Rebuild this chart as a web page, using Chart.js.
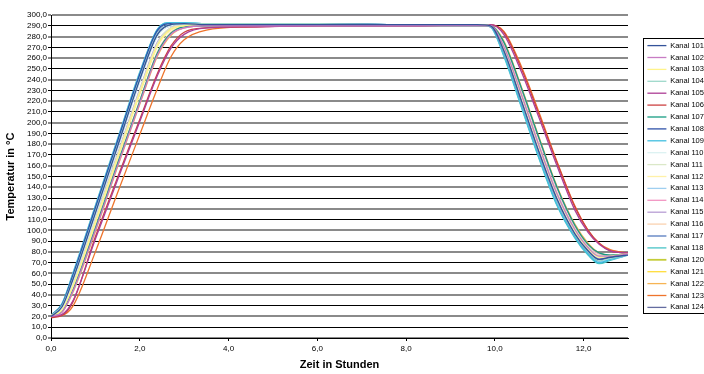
<!DOCTYPE html>
<html>
<head>
<meta charset="utf-8">
<script src="https://cdn.jsdelivr.net/npm/chart.js@4.4.1/dist/chart.umd.min.js"></script>
<style>
  html, body { margin: 0; padding: 0; background: #fff; overflow: hidden; }
  #wrap { width: 704px; height: 374px; }
</style>
</head>
<body>
<div id="wrap"><canvas id="chart" width="704" height="374"></canvas></div>
<script>
// Zeit in Stunden (Messzeitpunkte)
const zeit = [0, 0.25, 0.5, 1.0, 1.5, 2.0, 2.4, 2.7, 3.0, 3.5, 4.5, 6.0, 8.0,
              9.6, 9.9, 10.2, 10.6, 11.0, 11.4, 11.8, 12.1, 12.35, 12.6, 13.0];

// Temperaturen je Kanal (°C)
const kanal101 = [20, 29, 55, 116, 178, 240, 282, 291, 292, 291, 291, 291, 291, 291, 290, 267, 220, 172, 129, 97, 81, 73, 75, 77];
const kanal102 = [20, 24, 44, 100, 160, 218, 263, 282, 288, 290, 290, 290, 290, 290, 290, 271, 226, 178, 134, 101, 84, 76, 76, 78];
const kanal103 = [21, 26, 49, 108, 168, 228, 272, 287, 290, 291, 291, 291, 291, 291, 290, 270, 225, 177, 133, 100, 83, 75, 76, 78];
const kanal104 = [21, 30, 56, 117, 179, 241, 283, 291, 292, 292, 292, 292, 291, 291, 290, 266, 219, 171, 128, 96, 80, 72, 74, 77];
const kanal105 = [20, 22, 35, 92, 147, 201, 244, 269, 282, 288, 289, 290, 290, 291, 291, 282, 247, 204, 160, 119, 98, 87, 81, 79];
const kanal106 = [19, 21, 34, 94, 149, 203, 246, 271, 284, 288, 289, 290, 290, 291, 291, 284, 250, 207, 163, 122, 100, 88, 81, 79];
const kanal107 = [20, 25, 45, 102, 162, 220, 265, 283, 289, 290, 290, 290, 290, 290, 290, 275, 232, 185, 140, 105, 87, 79, 77, 78];
const kanal108 = [21, 31, 59, 121, 183, 245, 286, 292, 292, 292, 292, 292, 291, 291, 290, 266, 219, 171, 128, 96, 80, 72, 75, 77];
const kanal109 = [21, 32, 60, 122, 184, 246, 287, 293, 293, 292, 292, 292, 291, 291, 289, 263, 215, 167, 124, 94, 78, 70, 73, 77];
const kanal110 = [20, 28, 53, 114, 176, 238, 280, 290, 291, 291, 291, 291, 291, 291, 290, 270, 224, 176, 132, 99, 82, 75, 76, 78];
const kanal111 = [20, 27, 50, 110, 170, 230, 274, 288, 290, 290, 290, 291, 291, 290, 290, 272, 227, 179, 135, 102, 85, 77, 77, 78];
const kanal112 = [20, 26, 48, 107, 167, 227, 271, 286, 289, 290, 290, 290, 290, 290, 290, 271, 226, 178, 134, 101, 84, 76, 76, 78];
const kanal113 = [21, 31, 60, 122, 184, 246, 286, 292, 292, 292, 292, 291, 291, 291, 289, 264, 216, 168, 125, 95, 79, 71, 73, 77];
const kanal114 = [20, 24, 44, 101, 161, 219, 264, 282, 288, 290, 290, 290, 290, 290, 290, 274, 231, 184, 139, 104, 86, 78, 77, 78];
const kanal115 = [20, 27, 51, 111, 171, 231, 275, 288, 291, 291, 291, 291, 291, 291, 290, 268, 221, 173, 130, 98, 81, 74, 75, 77];
const kanal116 = [20, 25, 46, 103, 163, 221, 266, 284, 289, 290, 290, 290, 290, 290, 290, 272, 227, 179, 135, 101, 84, 76, 76, 78];
const kanal117 = [21, 30, 58, 120, 182, 244, 285, 292, 292, 292, 292, 292, 291, 291, 290, 267, 220, 172, 129, 97, 81, 73, 75, 77];
const kanal118 = [21, 32, 61, 123, 185, 247, 287, 293, 293, 292, 292, 292, 291, 291, 289, 262, 214, 166, 123, 93, 77, 69, 72, 77];
const kanal120 = [20, 26, 49, 108, 168, 228, 272, 287, 290, 290, 290, 290, 290, 290, 290, 270, 225, 177, 133, 100, 83, 75, 76, 78];
const kanal121 = [20, 26, 50, 109, 169, 229, 273, 287, 290, 290, 291, 291, 290, 290, 290, 269, 224, 176, 132, 99, 82, 74, 76, 78];
const kanal122 = [20, 24, 43, 99, 159, 217, 262, 281, 288, 290, 290, 290, 290, 290, 290, 276, 233, 186, 141, 106, 88, 79, 77, 78];
const kanal123 = [20, 21, 30, 80, 135, 189, 232, 261, 277, 286, 289, 290, 290, 290, 290, 285, 252, 209, 164, 123, 100, 88, 82, 79];
const kanal124 = [20, 29, 54, 115, 177, 239, 281, 290, 291, 291, 291, 291, 291, 291, 290, 268, 221, 173, 130, 97, 81, 74, 75, 77];

const kanalNamen = ['Kanal 101', 'Kanal 102', 'Kanal 103', 'Kanal 104', 'Kanal 105', 'Kanal 106',
  'Kanal 107', 'Kanal 108', 'Kanal 109', 'Kanal 110', 'Kanal 111', 'Kanal 112', 'Kanal 113',
  'Kanal 114', 'Kanal 115', 'Kanal 116', 'Kanal 117', 'Kanal 118', 'Kanal 120', 'Kanal 121',
  'Kanal 122', 'Kanal 123', 'Kanal 124'];
const kanalWerte = [kanal101, kanal102, kanal103, kanal104, kanal105, kanal106, kanal107, kanal108,
  kanal109, kanal110, kanal111, kanal112, kanal113, kanal114, kanal115, kanal116, kanal117,
  kanal118, kanal120, kanal121, kanal122, kanal123, kanal124];
const kanalFarben = ['#34539a', '#c77cc4', '#fff38a', '#9ed8ca', '#ad3e95', '#cc4242',
  '#179c82', '#2f52a8', '#42bfe0', '#dcf2f2', '#dbe8c8', '#fff1a8', '#9fcff0',
  '#f295c2', '#b89ed4', '#fad2b0', '#557bbf', '#48c3c6', '#c4cc38', '#ffdd3a',
  '#f6b454', '#ee742c', '#646ca0'];

const fmt = v => Number(v).toFixed(1).replace('.', ',');

// draws the frame around the legend
const legendFrame = {
  id: 'legendFrame',
  afterDraw(chart) {
    const lg = chart.legend;
    if (!lg || !lg.legendHitBoxes.length) return;
    const boxes = lg.legendHitBoxes;
    const top = boxes[0].top - 4;
    const bottom = boxes[boxes.length - 1].top + boxes[boxes.length - 1].height + 2;
    const ctx = chart.ctx;
    ctx.save();
    ctx.strokeStyle = '#000';
    ctx.lineWidth = 1;
    ctx.strokeRect(Math.round(lg.left) + 0.5, Math.round(top) + 0.5, 80, Math.round(bottom - top));
    ctx.restore();
  }
};

const datasets = kanalNamen.map((name, i) => ({
  label: name,
  data: zeit.map((t, j) => ({ x: t, y: kanalWerte[i][j] })),
  borderColor: kanalFarben[i],
  backgroundColor: kanalFarben[i],
  borderWidth: name === 'Kanal 120' ? 1.8 : 1.3,
  pointRadius: 0,
  cubicInterpolationMode: 'monotone',
  fill: false
}));

new Chart(document.getElementById('chart'), {
  type: 'line',
  data: { datasets },
  plugins: [legendFrame],
  options: {
    responsive: false,
    animation: false,
    layout: { padding: { top: 15, left: 0, right: 0, bottom: 0 } },
    plugins: {
      tooltip: { enabled: false },
      legend: {
        position: 'right',
        fullSize: false,
        maxWidth: 61,
        labels: {
          usePointStyle: true,
          pointStyle: 'line',
          pointStyleWidth: 19,
          padding: 4.4,
          color: '#000',
          font: { family: 'Liberation Sans, Arial, sans-serif', size: 7.5 }
        }
      }
    },
    scales: {
      x: {
        type: 'linear',
        min: 0,
        max: 13,
        afterFit(s) { s.height = 36; },
        grid: { drawOnChartArea: false, color: '#000', tickLength: 3 },
        border: { color: '#000', width: 1 },
        ticks: {
          stepSize: 2,
          includeBounds: false,
          padding: 3,
          color: '#000',
          font: { family: 'Liberation Sans, Arial, sans-serif', size: 8 },
          callback: v => fmt(v)
        },
        title: {
          display: true,
          text: 'Zeit in Stunden',
          color: '#000',
          padding: { top: 0, bottom: 2 },
          font: { family: 'Liberation Sans, Arial, sans-serif', size: 11, weight: 'bold' }
        }
      },
      y: {
        min: 0,
        max: 300,
        afterFit(s) { s.width = 51; },
        grid: {
          color: c => (c.tick && c.tick.value % 20 === 0) ? '#8a8a8a' : '#000',
          lineWidth: c => (c.tick && c.tick.value % 20 === 0) ? 2 : 1,
          tickLength: 3
        },
        border: { color: '#000', width: 1 },
        ticks: {
          stepSize: 10,
          autoSkip: false,
          padding: 1,
          color: '#000',
          font: { family: 'Liberation Sans, Arial, sans-serif', size: 8 },
          callback: v => fmt(v)
        },
        title: {
          display: true,
          text: 'Temperatur in °C',
          color: '#000',
          padding: { top: 4, bottom: 0 },
          font: { family: 'Liberation Sans, Arial, sans-serif', size: 11, weight: 'bold' }
        }
      },
      spacer: {
        type: 'linear',
        position: 'right',
        display: true,
        afterFit(s) { s.width = 15; },
        grid: { display: false, drawTicks: false },
        border: { display: false },
        ticks: { display: false }
      }
    }
  }
});
</script>
</body>
</html>
